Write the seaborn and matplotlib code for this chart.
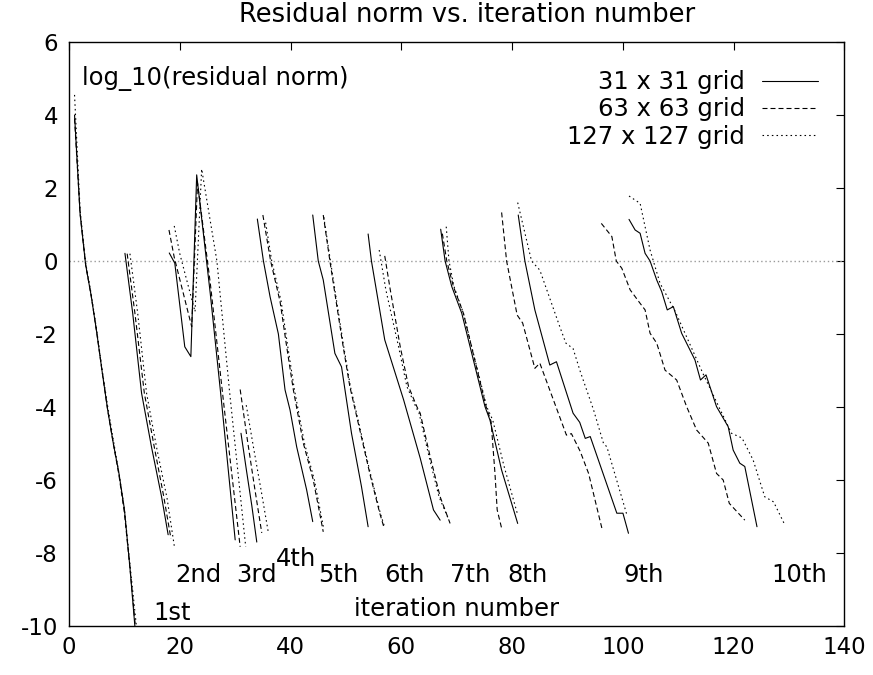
import numpy as np
import pandas as pd
import matplotlib
matplotlib.use("Agg")
import matplotlib.pyplot as plt
import seaborn as sns

grid_names = ["31 x 31 grid", "63 x 63 grid", "127 x 127 grid"]

# ---- 31 x 31 grid (solid) : one list per solve ----
x31 = [
    [1, 2, 3, 4, 5, 6, 7, 8, 9, 10, 11, 12],
    [10.1, 11.5, 13.1, 14.9, 16.7, 17.9],
    [18.1, 19.1, 20.9, 22.0, 23.05, 25.5, 27.5, 30.0],
    [31.05, 32.0, 33.0, 33.9],
    [34.0, 35.1, 36.3, 37.8, 39.0, 39.9, 41.1, 42.9, 44.0],
    [44.0, 45.0, 45.9, 48.0, 49.2, 51.0, 52.8, 54.0],
    [54.0, 54.6, 57.0, 60.4, 63.4, 65.8, 67.0],
    [67.1, 67.9, 69.1, 70.9, 75.1, 76.0, 78.1, 81.0],
    [81.1, 82.3, 84.1, 86.8, 88.0, 91.0, 92.2, 93.2, 94.1, 98.9, 100.0, 101.0],
    [101.1, 102.2, 103.1, 104.0, 104.9, 106.1, 107.0, 108.0, 109.1, 110.6, 113.0,
     114.0, 115.0, 116.9, 119.0, 119.9, 121.1, 122.0, 124.2],
]
y31 = [
    [4.0, 1.3, -0.1, -0.95, -1.95, -3.05, -4.1, -5.0, -5.8, -6.8, -8.4, -10.2],
    [0.21, -1.43, -3.62, -5.1, -6.45, -7.5],
    [0.22, -0.06, -2.35, -2.62, 2.36, -0.89, -3.8, -7.64],
    [-4.72, -5.7, -6.7, -7.7],
    [1.15, 0.0, -0.98, -2.0, -3.53, -4.08, -5.09, -6.27, -7.14],
    [1.26, 0.0, -0.52, -2.53, -2.9, -4.72, -6.18, -7.28],
    [0.74, 0.0, -2.16, -3.8, -5.4, -6.82, -7.1],
    [0.87, 0.0, -0.7, -1.43, -3.99, -4.36, -5.73, -7.19],
    [1.26, 0.0, -1.34, -2.85, -2.76, -4.17, -4.42, -4.86, -4.81, -6.91, -6.91, -7.46],
    [1.14, 0.85, 0.76, 0.21, 0.0, -0.52, -0.84, -1.34, -1.25, -1.98, -2.71,
     -3.26, -3.12, -3.99, -4.54, -5.18, -5.54, -5.63, -7.28],
]

# ---- 63 x 63 grid (dashed) ----
x63 = [
    [1, 2, 3, 4, 5, 6, 7, 8, 9, 10, 11, 12.1],
    [10.5, 11.9, 13.6, 15.4, 17.1, 18.4],
    [18.05, 19.0, 22.15, 23.2, 25.5, 28.0, 30.9],
    [30.9, 32.2, 33.5, 34.8],
    [35.0, 36.4, 38.1, 39.3, 40.5, 42.3, 44.1, 45.9],
    [45.9, 47.1, 48.0, 49.5, 50.7, 52.5, 54.3, 56.1, 56.9],
    [57.0, 58.0, 59.8, 61.3, 62.8, 63.4, 65.2, 67.0, 68.8],
    [67.4, 68.2, 69.4, 71.2, 75.3, 76.2, 76.9, 77.3, 78.1],
    [78.1, 79.0, 80.9, 81.9, 84.1, 85.0, 89.8, 90.7, 92.3, 93.8, 96.2],
    [96.1, 98.0, 98.8, 99.8, 101.3, 103.1, 104.0, 104.9, 106.1, 107.6, 109.7,
     111.5, 113.3, 115.4, 116.9, 118.1, 119.2, 122.0],
]
y63 = [
    [3.9, 1.3, -0.1, -0.95, -1.95, -3.05, -4.1, -5.0, -5.85, -6.9, -8.4, -10.2],
    [0.2, -1.43, -3.62, -5.1, -6.45, -7.6],
    [0.85, 0.1, -1.8, 2.13, -0.6, -4.0, -7.83],
    [-3.52, -4.9, -6.2, -7.45],
    [1.26, 0.0, -1.11, -2.35, -3.53, -4.99, -6.0, -7.42],
    [1.26, 0.0, -0.89, -2.35, -3.44, -4.63, -5.82, -6.91, -7.32],
    [0.14, -0.79, -2.35, -3.44, -3.99, -4.17, -5.36, -6.46, -7.19],
    [0.75, 0.0, -0.7, -1.43, -3.99, -4.4, -5.82, -6.82, -7.32],
    [1.33, 0.0, -1.48, -1.7, -2.94, -2.8, -4.77, -4.73, -5.22, -5.82, -7.32],
    [1.03, 0.67, 0.0, -0.2, -0.79, -1.16, -1.34, -1.98, -2.25, -2.99, -3.26,
     -3.99, -4.63, -4.99, -5.82, -6.0, -6.64, -7.1],
]

# ---- 127 x 127 grid (dotted) ----
x127 = [
    [1, 2, 3, 4, 5, 6, 7, 8, 9, 10, 11, 12.3],
    [11.0, 12.4, 14.0, 15.8, 17.7, 19.0],
    [19.0, 20.0, 22.75, 23.95, 26.7, 29.0, 31.9],
    [32.0, 33.3, 34.7, 36.0],
    [35.5, 36.6, 38.3, 39.5, 40.7, 42.5, 44.3, 46.0],
    [46.0, 47.2, 48.1, 49.6, 50.8, 52.6, 54.4, 56.2, 57.0],
    [56.0, 57.2, 59.5, 61.0, 62.6, 63.2, 65.0, 66.8, 68.6],
    [68.1, 68.6, 69.5, 71.2, 75.4, 76.5, 78.5, 80.9],
    [81.0, 83.5, 85.0, 88.6, 89.7, 91.0, 92.3, 94.7, 96.5, 97.1, 100.8],
    [101.1, 103.1, 104.9, 106.7, 109.5, 114.5, 119.6, 121.5, 123.5, 125.6, 127.2, 129.1],
]
y127 = [
    [4.55, 1.4, -0.05, -0.9, -1.9, -3.0, -4.0, -4.9, -5.8, -6.8, -8.3, -10.2],
    [0.2, -1.43, -3.62, -5.1, -6.5, -7.8],
    [0.96, 0.2, -1.39, 2.52, 0.0, -3.6, -7.83],
    [-3.95, -5.1, -6.3, -7.45],
    [1.05, 0.0, -1.11, -2.35, -3.53, -4.99, -6.0, -7.35],
    [1.2, 0.0, -0.89, -2.35, -3.44, -4.63, -5.82, -6.91, -7.3],
    [0.3, -0.79, -2.35, -3.44, -3.99, -4.17, -5.36, -6.46, -7.1],
    [0.94, 0.0, -0.7, -1.43, -3.99, -4.36, -5.6, -6.9],
    [1.6, 0.0, -0.25, -1.8, -2.25, -2.4, -3.03, -4.08, -5.0, -5.09, -7.0],
    [1.78, 1.58, 0.3, -0.61, -1.4, -3.1, -4.72, -4.85, -5.45, -6.46, -6.6, -7.19],
]

solve_labels = ["1st", "2nd", "3rd", "4th", "5th", "6th", "7th", "8th", "9th", "10th"]
solve_label_x = [18.6, 23.3, 33.8, 40.9, 48.6, 60.6, 72.5, 82.7, 103.7, 131.8]
solve_label_y = [-9.84, -8.8, -8.8, -8.35, -8.8, -8.8, -8.8, -8.8, -8.8, -8.8]

x_ticks = [0, 20, 40, 60, 80, 100, 120, 140]
y_ticks = [6, 4, 2, 0, -2, -4, -6, -8, -10]

title = "Residual norm vs. iteration number"
ylabel_text = "log_10(residual norm)"
xlabel_text = "iteration number"

# ---------------------------------------------------------------------------
sns.set_theme(style="white")
plt.rcParams['font.family'] = ['DejaVu Sans']
plt.rcParams['axes.unicode_minus'] = False
plt.rcParams['text.color'] = 'black'
plt.rcParams['axes.labelcolor'] = 'black'
plt.rcParams['xtick.color'] = 'black'
plt.rcParams['ytick.color'] = 'black'
FS = 17.5
TFS = 16.5

rows = []
for name, xs, ys in zip(grid_names, [x31, x63, x127], [y31, y63, y127]):
    for k, (sx, sy) in enumerate(zip(xs, ys)):
        for a, b in zip(sx, sy):
            rows.append((name, k, a, b))
df = pd.DataFrame(rows, columns=["grid", "seg", "x", "y"])

W, H = 873, 675
fig = plt.figure(figsize=(W / 100, H / 100), dpi=100)
L, R, T, B = 69, 844.5, 42, 626
ax = fig.add_axes([L / W, 1 - B / H, (R - L) / W, (B - T) / H])

ax.axhline(0, color="#9a9a9a", lw=1.0, ls=(0, (1.0, 2.0)), zorder=1)

sns.lineplot(data=df, x="x", y="y", style="grid", units="seg", estimator=None,
             sort=False, color="black", style_order=grid_names,
             dashes={grid_names[0]: "", grid_names[1]: (4.5, 2.7), grid_names[2]: (1.4, 2.8)},
             linewidth=0.8, ax=ax, legend=True, zorder=3)

ax.set_xlim(0, 140)
ax.set_ylim(-10, 6)
ax.set_xticks(x_ticks)
ax.set_xticklabels([str(v) for v in x_ticks])
ax.set_yticks(y_ticks)
ax.set_yticklabels([str(v) for v in y_ticks])
ax.set_xlabel("")
ax.set_ylabel("")
ax.tick_params(direction="in", length=6, width=0.8, top=True, right=True,
               labelsize=TFS, colors="black")
ax.tick_params(axis="y", pad=8)
ax.tick_params(axis="x", pad=7)
for s in ax.spines.values():
    s.set_color("black")
    s.set_linewidth(1.0)

handles, labels = ax.get_legend_handles_labels()
ax.legend(handles, labels, loc="upper right", bbox_to_anchor=(0.966, 0.952),
          frameon=False, markerfirst=False, fontsize=FS, handlelength=2.3,
          handletextpad=0.7, labelspacing=0.14, borderpad=0, borderaxespad=0,
          labelcolor="black")

ax.text(2.35, 5.01, ylabel_text, fontsize=FS, ha="left", va="center", color="black")
ax.text(70.0, -9.73, xlabel_text, fontsize=FS, ha="center", va="baseline", color="black")
for lab, lx, ly in zip(solve_labels, solve_label_x, solve_label_y):
    ax.text(lx, ly, lab, fontsize=FS, ha="center", va="baseline", color="black")

fig.text(467 / W, 1 - 15 / H, title, fontsize=18.5, ha="center", va="center", color="black")

fig.savefig("out.png", dpi=100)
